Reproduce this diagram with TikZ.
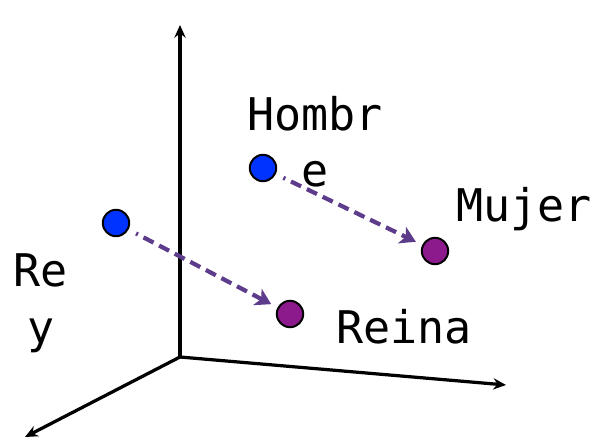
\documentclass[tikz,border=0pt]{standalone}
\usepackage{fontspec}
\setmonofont{DejaVu Sans Mono}
\usetikzlibrary{
		arrows.meta,
		positioning
	}
\tikzset{
		>=Stealth
	}
\definecolor{ptblue}{RGB}{0,51,255}
\definecolor{ptpurple}{RGB}{140,26,140}
\definecolor{vecpurple}{RGB}{94,60,140}

\begin{document}
\begin{tikzpicture}[x=0.025cm,y=-0.025cm,
		axis/.style={line width=2.3pt,-{Stealth[length=9pt,width=8pt]}},
		ball/.style={circle,draw=black,line width=1.4pt,minimum size=0.66cm,inner sep=0pt},
		vec/.style={vecpurple,line width=3pt,dash pattern=on 8pt off 4.5pt,dash phase=6.5pt,
			-{Stealth[length=11pt,width=13pt,inset=3pt]},shorten <=6pt,shorten >=5pt},
		word/.style={font=\ttfamily\fontsize{32}{40}\selectfont,inner sep=0pt,align=center}
	]
\useasboundingbox (0,0) rectangle (605,446);
% axes
\coordinate (o) at (180,357);
\coordinate (up) at (180,25);
\coordinate (right) at (506,385);
\coordinate (front) at (25,437);
\draw[axis] (o) -- (up);
\draw[axis] (o) -- (right);
\draw[axis] (o) -- (front);
% points
\node[ball,fill=ptblue] (rey) at (116,223) {};
\node[ball,fill=ptblue] (hombre) at (263,168) {};
\node[ball,fill=ptpurple] (reina) at (290,314) {};
\node[ball,fill=ptpurple] (mujer) at (435,251) {};
\draw[vec] (rey) -- (reina);
\draw[vec] (hombre) -- (mujer);
% labels
\node[word,anchor=base] (lhombre) at (315,187) {Hombr\\e};
\node[word,anchor=base] (lmujer) at (524,222) {Mujer};
\node[word,anchor=base] (lrey) at (41,343) {Re\\y};
\node[word,anchor=base] (lreina) at (404,343) {Reina};
\end{tikzpicture}
\end{document}
